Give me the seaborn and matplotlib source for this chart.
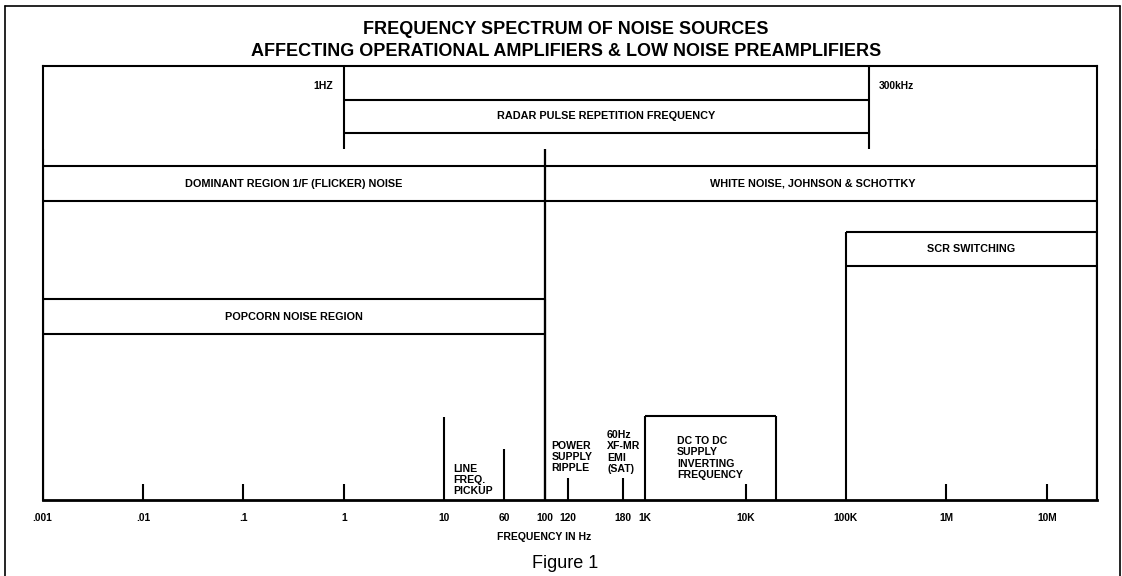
import numpy as np
import matplotlib.pyplot as plt
import seaborn as sns
from matplotlib.lines import Line2D

# ---- data ----
tick_freqs = [0.001, 0.01, 0.1, 1, 10, 60, 100, 120, 180, 1e3, 1e4, 1e5, 1e6, 1e7]
tick_labels = ['.001', '.01', '.1', '1', '10', '60', '100', '120', '180', '1K', '10K', '100K', '1M', '10M']

f_min = 0.001
f_max = 10 ** 7.5   # right edge of the chart

band_names = ['RADAR PULSE REPETITION FREQUENCY', 'DOMINANT REGION 1/F (FLICKER) NOISE',
              'WHITE NOISE, JOHNSON & SCHOTTKY', 'SCR SWITCHING', 'POPCORN NOISE REGION']
band_lo = [1, 0.001, 100, 1e5, 0.001]
band_hi = [3e5, 100, f_max, f_max, 100]

radar_edge_labels = ['1HZ', '300kHz']

# discrete interference lines
spike_freqs = [10, 60, 120, 180]
decade_ticks = [0.01, 0.1, 1, 1e4, 1e6, 1e7]

source_labels = ['LINE\nFREQ.\nPICKUP', 'POWER\nSUPPLY\nRIPPLE', '60Hz\nXF-MR\nEMI\n(SAT)',
                 'DC TO DC\nSUPPLY\nINVERTING\nFREQUENCY']
source_freqs = [10, 100, 180, 1e3]

dc_dc_lo, dc_dc_hi = 1e3, 2e4
flicker_corner = 100

# ---- layout (axes fraction heights) ----
# band: strip top, strip bottom, edge top, edge bottom
band_layout = [(0.9217, 0.8456, 1.0, 0.8088),
               (0.7696, 0.6889, 0.8088, 0.0),
               (0.7696, 0.6889, 0.8088, 0.0),
               (0.6175, 0.5392, 0.6175, 0.0),
               (0.4631, 0.3825, 0.4631, 0.0)]
band_label_dx = [0, 0, -6, 0, 0]   # points
spike_heights = [0.1912, 0.1175, 0.0507, 0.0507]
decade_tick_h = 0.0369
dc_dc_top = 0.1935
# text offsets (points) and heights for the source labels
source_offsets = [6.5, 5, -11.5, 23]
source_y = [0.046, 0.099, 0.1106, 0.0968]

# the drawing is schematic: decades are even, but 10 Hz - 1 kHz
# and 100 kHz - 1 MHz are spaced by hand
_src = np.log10([1e-6, 10, 60, 100, 120, 180, 1e3, 1e5, 3e5, 1e6, 1e9])
_dst = np.array([-6, 1, 1.594, 2, 2.23, 2.78, 3, 5, 5.23, 6, 9])


def fwd(f):
    return np.interp(np.log10(np.clip(f, 1e-12, None)), _src, _dst)


def inv(p):
    return 10 ** np.interp(p, _dst, _src)


def centre(lo, hi):
    return inv((fwd(lo) + fwd(hi)) / 2)


sns.set_theme(style='white')
plt.rcParams['font.family'] = ['Liberation Sans', 'DejaVu Sans']
plt.rcParams['text.color'] = 'black'
plt.rcParams['axes.labelcolor'] = 'black'
plt.rcParams['xtick.color'] = 'black'

LW = 1.5
band_font = dict(fontsize=7.8, fontweight='bold', color='black')
src_font = dict(fontsize=7.6, fontweight='bold', color='black')

fig = plt.figure(figsize=(11.22, 5.76), dpi=100)
ax = fig.add_axes([42.5 / 1122, 1 - 500 / 576, (1097 - 42.5) / 1122, 434 / 576])
ax.set_xscale('function', functions=(fwd, inv))
ax.set_xlim(f_min, f_max)
ax.set_ylim(0, 1)
for s in ax.spines.values():
    s.set_color('black')
    s.set_linewidth(LW)
ax.spines['bottom'].set_linewidth(2.0)

ax.set_xticks(tick_freqs, labels=tick_labels)
ax.minorticks_off()
ax.set_yticks([])
ax.tick_params(axis='x', length=0, pad=9.5, labelsize=7.4)
for lab in ax.get_xticklabels():
    lab.set_fontweight('bold')

# bands
for name, lo, hi, (st, sb, et, eb), dx in zip(band_names, band_lo, band_hi, band_layout, band_label_dx):
    ax.hlines([st, sb], lo, hi, color='black', lw=LW)
    ax.vlines([lo, hi], eb, et, color='black', lw=LW)
    ax.annotate(name, xy=(centre(lo, hi), (st + sb) / 2), xytext=(dx, 0),
                textcoords='offset points', ha='center', va='center', **band_font)

# radar edge labels
ax.annotate(radar_edge_labels[0], xy=(band_lo[0], 0.9539), xytext=(-8, 0),
            textcoords='offset points', ha='right', va='center', fontsize=7.6, fontweight='bold')
ax.annotate(radar_edge_labels[1], xy=(band_hi[0], 0.9539), xytext=(7, 0),
            textcoords='offset points', ha='left', va='center', fontsize=7.4, fontweight='bold')

# flicker / white noise corner
ax.vlines(flicker_corner, 0, 0.8088, color='black', lw=LW)

# discrete lines and decade ticks
ax.vlines(spike_freqs, 0, spike_heights, color='black', lw=LW)
ax.vlines(decade_ticks, 0, decade_tick_h, color='black', lw=LW)

# dc-dc converter box
ax.vlines([dc_dc_lo, dc_dc_hi], 0, dc_dc_top, color='black', lw=LW)
ax.hlines(dc_dc_top, dc_dc_lo, dc_dc_hi, color='black', lw=LW)

for txt, f, dx, y in zip(source_labels, source_freqs, source_offsets, source_y):
    ax.annotate(txt, xy=(f, y), xytext=(dx, 0), textcoords='offset points',
                ha='left', va='center', linespacing=1.13, **src_font)

ax.set_xlabel('FREQUENCY IN Hz', fontsize=7.5, fontweight='bold')
ax.xaxis.set_label_coords((544 - 42.5) / 1054.5, -0.0853)
ax.xaxis.label.set_va('center')

fig.text(0.5045, 1 - 40.5 / 576,
         'FREQUENCY SPECTRUM OF NOISE SOURCES\nAFFECTING OPERATIONAL AMPLIFIERS & LOW NOISE PREAMPLIFIERS',
         ha='center', va='center', fontsize=13, fontweight='bold', linespacing=1.33, color='black')
fig.text(565 / 1122, 1 - 564 / 576, 'Figure 1', ha='center', va='center', fontsize=13, color='black')

# outer border of the figure panel
bx0, bx1, by0, by1 = 4.5 / 1122, 1119.5 / 1122, 1 - 6 / 576, -0.01
for xs, ys in [([bx0, bx0], [by1, by0]), ([bx0, bx1], [by0, by0]), ([bx1, bx1], [by0, by1])]:
    fig.add_artist(Line2D(xs, ys, transform=fig.transFigure, color='black', lw=1.2))

fig.savefig('out.png', dpi=100, facecolor='white')
